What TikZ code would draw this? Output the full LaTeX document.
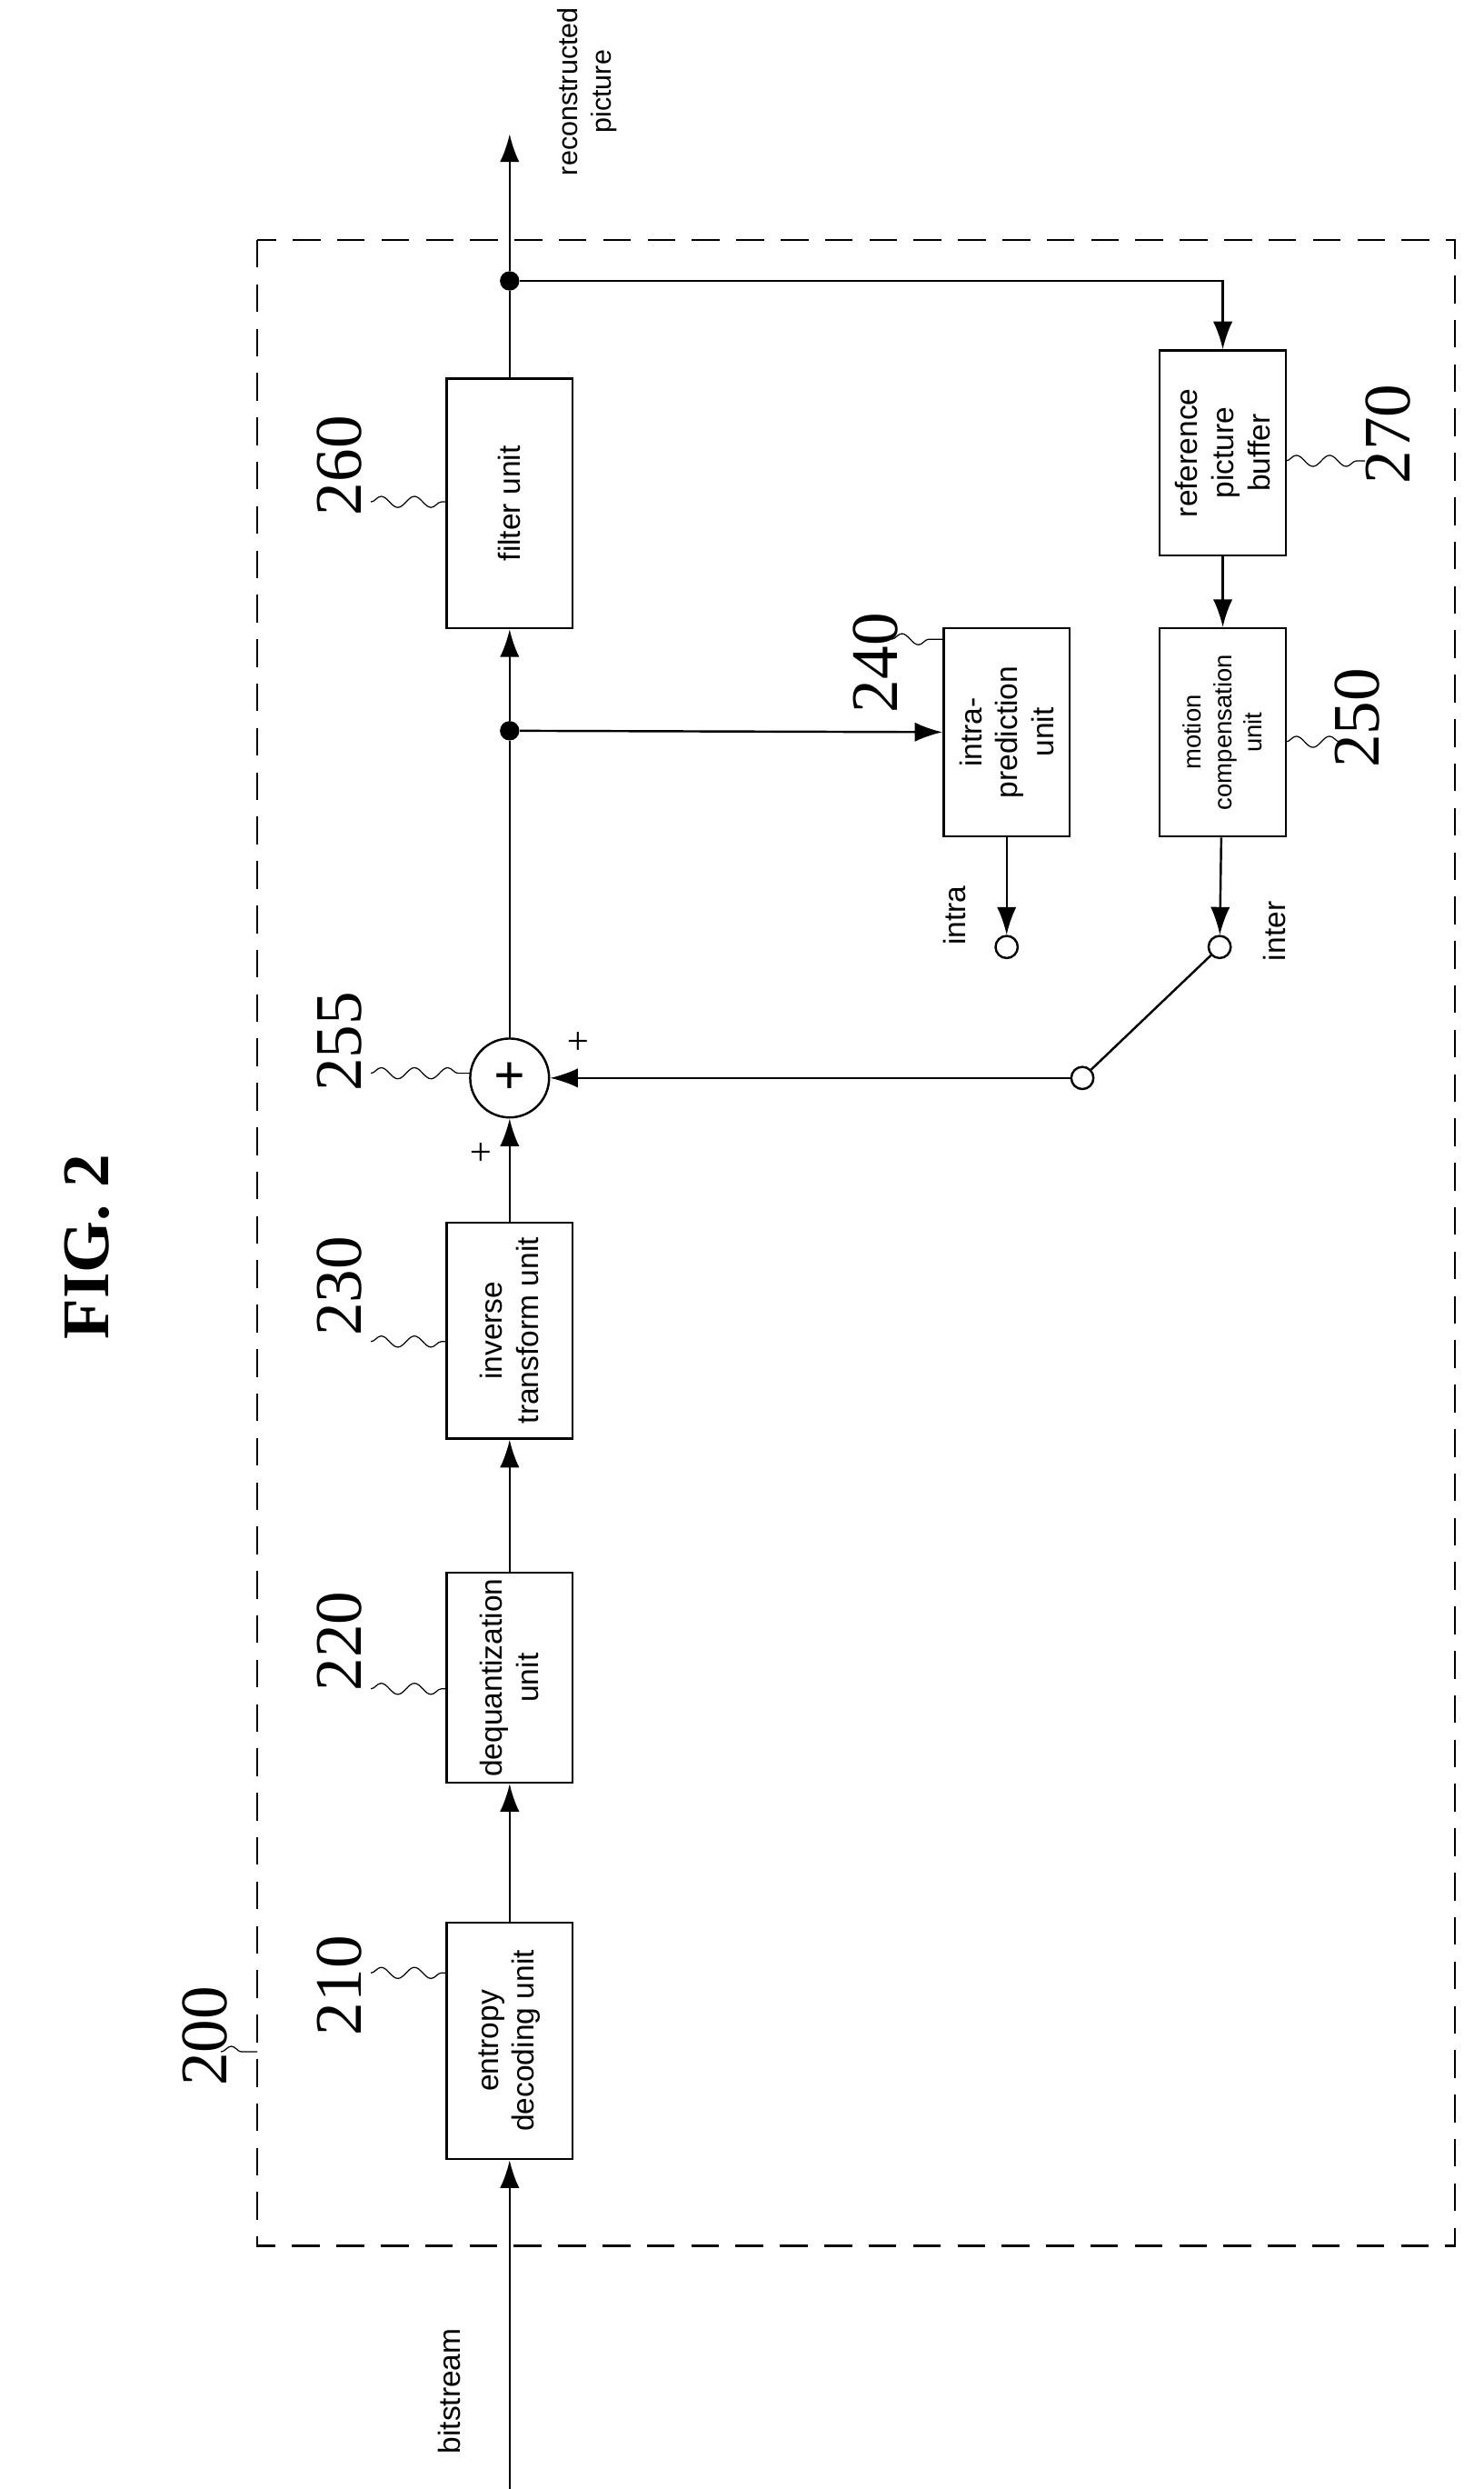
\documentclass[tikz,border=0pt]{standalone}
\usepackage{fontspec}
\setmainfont{Liberation Serif}
\newfontfamily\boxfont{Liberation Sans}
\usetikzlibrary{arrows.meta,decorations.pathmorphing}
\tikzset{
  box/.style={draw,thick,rotate=90,minimum height=1.6cm,align=center,font=\boxfont\fontsize{11}{13}\selectfont,inner sep=1pt},
  num/.style={rotate=90,font=\fontsize{24}{24}\selectfont},
  lbl/.style={rotate=90,font=\boxfont\fontsize{11}{13}\selectfont,align=center},
  lead/.style={thin,decorate,decoration={snake,amplitude=2pt,segment length=12pt}},
  arr/.style={thick,-{Latex[length=10pt,width=7pt]}},
  dot/.style={circle,fill,inner sep=0pt,minimum size=7pt},
  open/.style={circle,draw,thick,fill=white,inner sep=0pt,minimum size=8pt}
}
\begin{document}
\begin{tikzpicture}[x=0.02cm,y=-0.02cm]
\useasboundingbox (0,0) rectangle (940,1577);
\node[rotate=90,font=\bfseries\fontsize{24}{24}\selectfont] (fig) at (55,790) {FIG. 2};
\draw[thick,dashed,dash pattern=on 10pt off 6pt] (163,152) rectangle (922,1423);
% blocks
\node[box,minimum width=3cm] (entropy) at (323,1293) {entropy\\decoding unit};
\node[box,minimum width=2.66cm] (dequant) at (323,1063) {dequantization\\unit};
\node[box,minimum width=2.74cm] (invtr) at (323,843) {inverse\\transform unit};
\node[circle,draw,thick,minimum size=1cm,inner sep=0pt,font=\bfseries\fontsize{20}{20}\selectfont] (adder) at (323,683) {+};
\node[box,minimum width=3.16cm] (filter) at (323,319) {filter unit};
\node[box,minimum width=2.64cm] (intra) at (638,464) {intra-\\prediction\\unit};
\node[box,minimum width=2.64cm,font=\boxfont\fontsize{9}{11}\selectfont] (motion) at (775,464) {motion\\compensation\\unit};
\node[box,minimum width=2.6cm] (refbuf) at (775,287) {reference\\picture\\buffer};
% points
\coordinate (bitin) at (323,1577);
\coordinate (recout) at (323,85);
\node[dot] (jfilt) at (323,463) {};
\node[dot] (jout) at (323,178) {};
\coordinate (jref) at (775,178);
\node[open] (pintra) at (638,600) {};
\node[open] (pinter) at (773,600) {};
\node[open] (psw) at (686,683) {};
% texts
\node[lbl] (tbit) at (285,1515) {bitstream};
\node[lbl,font=\boxfont\fontsize{10}{12}\selectfont] (trec) at (372,58) {reconstructed\\picture};
\node[lbl] (tintra) at (605,580) {intra};
\node[lbl] (tinter) at (808,590) {inter};
\node[rotate=90,font=\fontsize{14}{14}\selectfont] (pa) at (306,730) {+};
\node[rotate=90,font=\fontsize{14}{14}\selectfont] (pb) at (368,660) {+};
% connectors
\draw[arr] (bitin) -- (entropy);
\draw[arr] (entropy) -- (dequant);
\draw[arr] (dequant) -- (invtr);
\draw[arr] (invtr) -- (adder);
\draw[thick] (adder) -- (jfilt);
\draw[arr] (jfilt) -- (filter);
\draw[thick] (filter) -- (jout);
\draw[arr] (jout) -- (recout);
\draw[arr] (jout) -- (jref) -- (refbuf);
\draw[arr] (refbuf) -- (motion);
\draw[arr] (jfilt) -- (intra);
\draw[arr] (intra) -- (pintra);
\draw[arr] (motion) -- (pinter);
\draw[thick] (psw) -- (pinter);
\draw[arr] (psw) -- (adder);
% reference numerals
\node[num] (n200) at (130,1290) {200};
\node[num] (n210) at (215,1258) {210};
\node[num] (n220) at (215,1040) {220};
\node[num] (n230) at (215,815) {230};
\node[num] (n255) at (215,660) {255};
\node[num] (n260) at (215,295) {260};
\node[num] (n240) at (555,420) {240};
\node[num] (n250) at (860,455) {250};
\node[num] (n270) at (880,275) {270};
\draw[lead] (140,1300) -- (163,1300);
\draw[lead] (235,1250) -- (283,1250);
\draw[lead] (235,1070) -- (283,1070);
\draw[lead] (235,850) -- (283,850);
\draw[lead] (235,680) -- (298,680);
\draw[lead] (235,318) -- (283,318);
\draw[lead] (565,405) -- (598,405);
\draw[lead] (815,470) -- (850,470);
\draw[lead] (815,292) -- (865,292);
\end{tikzpicture}
\end{document}
